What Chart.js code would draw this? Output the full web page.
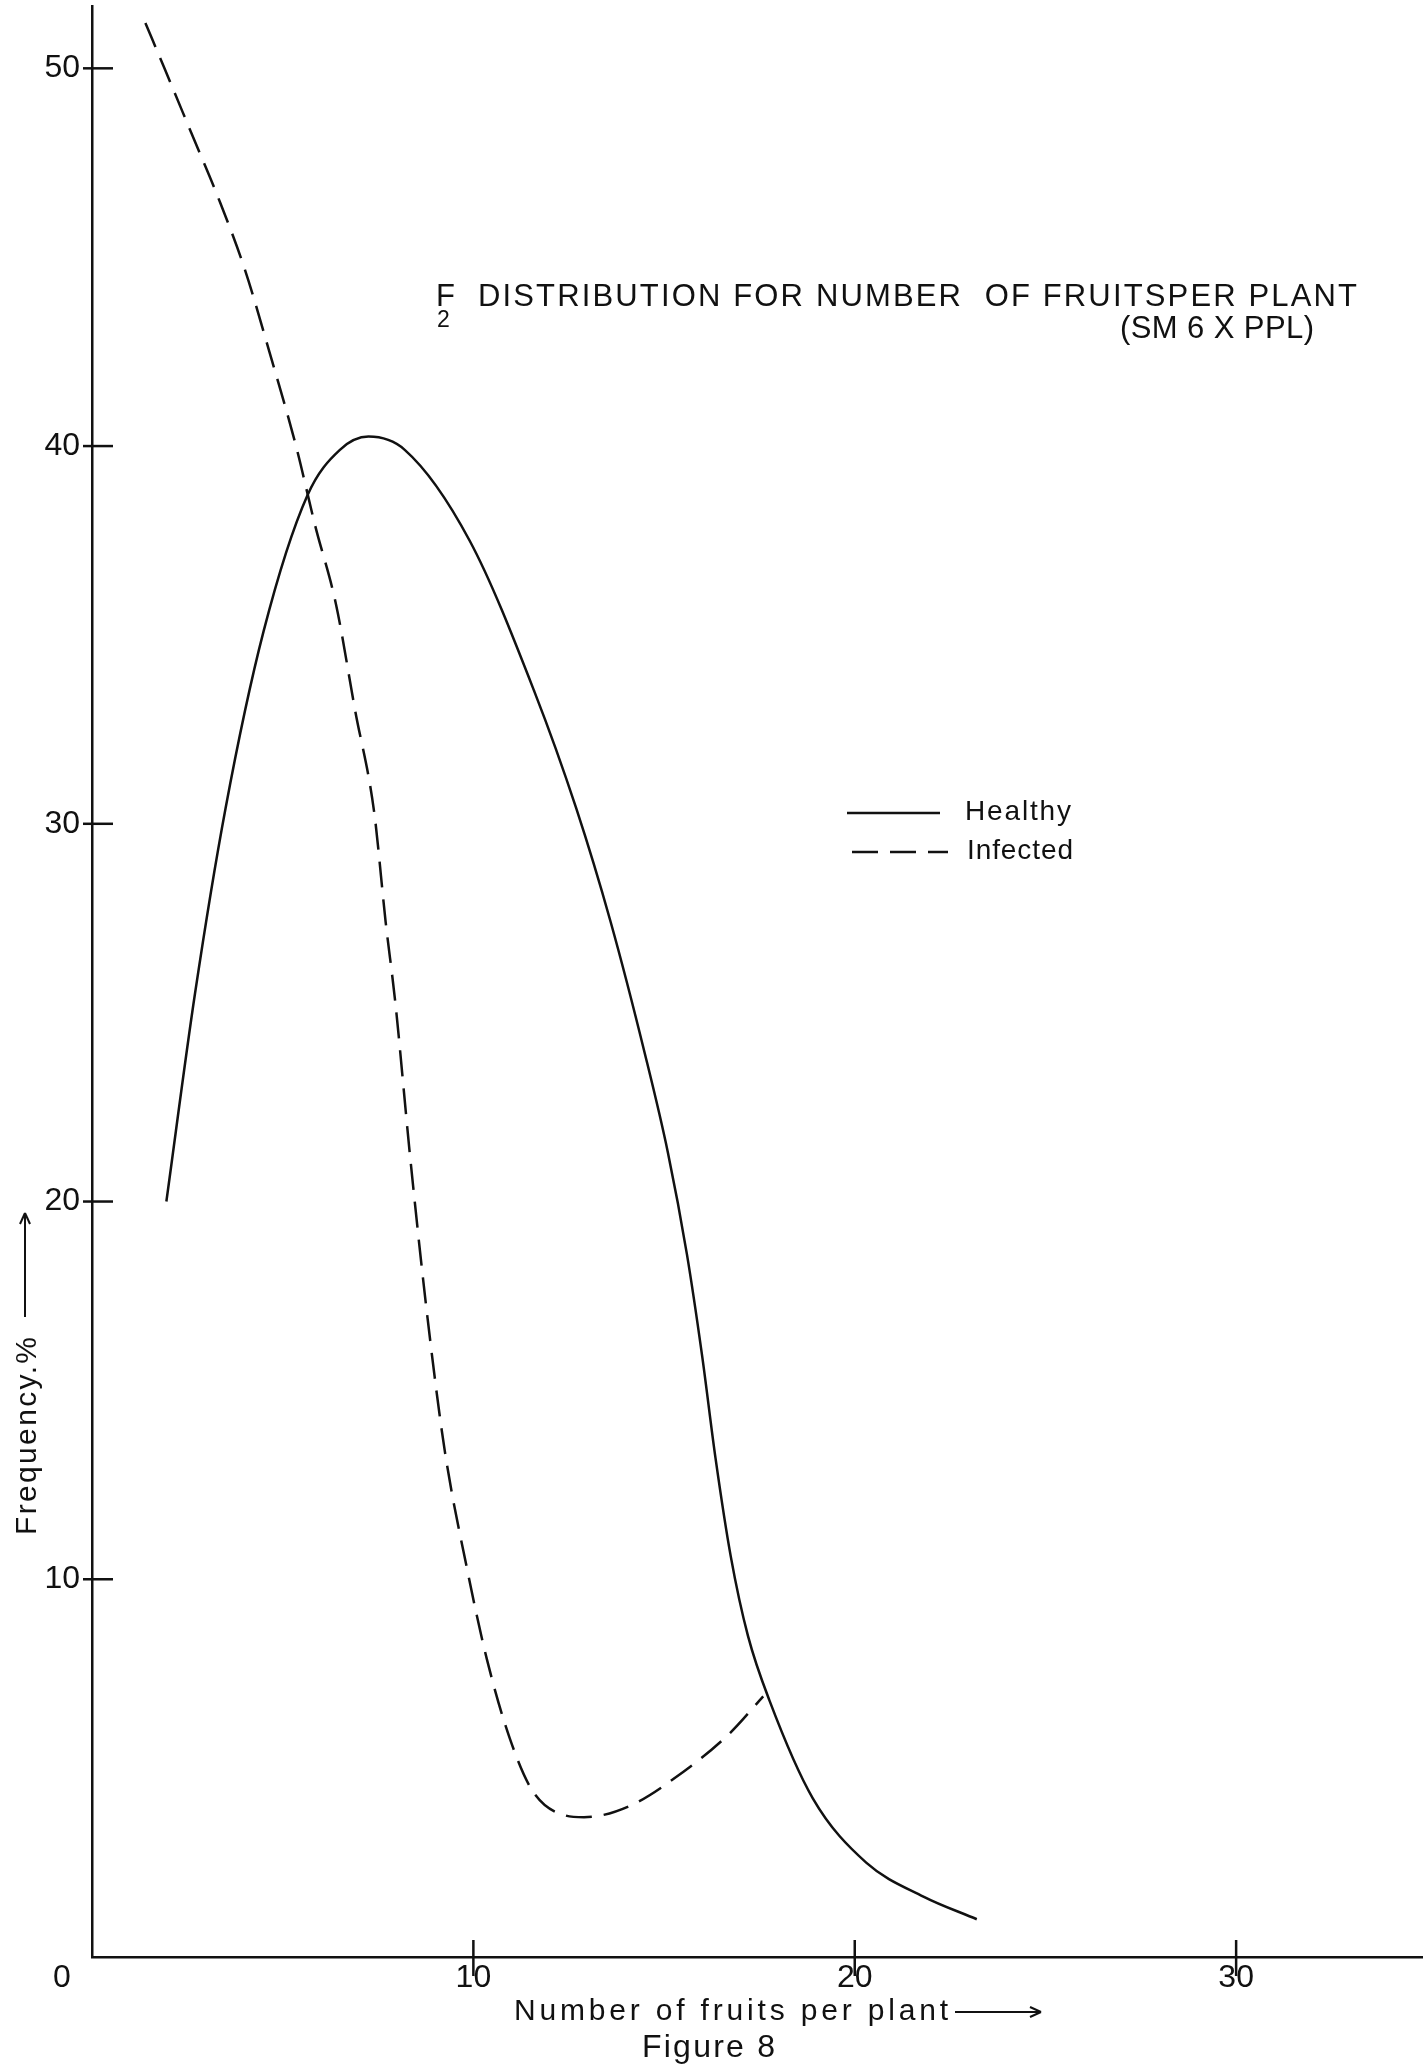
<!DOCTYPE html>
<html>
<head>
<meta charset="utf-8">
<title>F2 distribution for number of fruits per plant</title>
<script src="https://cdn.jsdelivr.net/npm/chart.js@4.4.0/dist/chart.umd.min.js"></script>
<style>
  html, body { margin: 0; padding: 0; background: #fff; }
  #wrap { width: 1423px; height: 2066px; }
</style>
</head>
<body>
<div id="wrap"><canvas id="grafico" width="1423" height="2066"></canvas></div>
<script>
// values
const healthyX = [1.95, 2.7, 3.5, 4.5, 5.65, 6.5, 7.25, 8.2, 9.9, 11.6, 12.7, 13.6, 14.5, 15.1, 15.6, 16.0, 16.35, 16.75, 17.2, 17.76, 18.9, 20.3, 21.8, 23.2];
const healthyY = [20.0, 25.5, 30.4, 35.1, 38.7, 39.9, 40.25, 39.9, 37.5, 33.5, 30.4, 27.4, 23.9, 21.3, 18.6, 15.9, 13.2, 10.6, 8.5, 6.8, 4.2, 2.5, 1.6, 1.0];

const infectedX = [1.4, 1.9, 2.6, 3.3, 4.0, 4.65, 5.35, 5.85, 6.4, 6.9, 7.4, 7.7, 7.95, 8.35, 8.8, 9.25, 9.85, 10.35, 10.95, 11.55, 12.4, 12.9, 14.1, 15.5, 16.7, 17.6];
const infectedY = [51.2, 50.0, 48.3, 46.6, 44.7, 42.5, 40.0, 37.9, 35.8, 33.0, 30.3, 27.4, 25.3, 21.1, 16.9, 13.4, 10.2, 7.9, 5.8, 4.4, 3.75, 3.7, 4.0, 4.9, 5.9, 6.9];

const xTicks = [0, 10, 20, 30];
const yTicks = [0, 10, 20, 30, 40, 50];
const xMax = 34.9;
const yMax = 51.65;

const seriesNames = ['Healthy', 'Infected'];
const TITLE = 'DISTRIBUTION FOR NUMBER  OF FRUITSPER PLANT';
const SUBTITLE = '(SM 6 X PPL)';
const X_TITLE = 'Number of fruits per plant';
const Y_TITLE = 'Frequency.%';
const FIG_LABEL = 'Figure 8';

const INK = '#111';
const FONT = '"Liberation Sans", Arial, sans-serif';

function toPoints(xs, ys) {
    return xs.map((x, i) => ({ x: x, y: ys[i] }));
}

function seg(ctx, x1, y1, x2, y2) {
    ctx.beginPath();
    ctx.moveTo(x1, y1);
    ctx.lineTo(x2, y2);
    ctx.stroke();
}

function arrowRight(ctx, x1, y, x2) {
    seg(ctx, x1, y, x2, y);
    seg(ctx, x2 - 11, y - 5, x2, y);
    seg(ctx, x2 - 11, y + 5, x2, y);
}

// stretch text to a given width with letter spacing
function fitText(ctx, text, x, y, width) {
    ctx.letterSpacing = '0px';
    const w = ctx.measureText(text).width;
    const ls = text.length > 1 ? (width - w) / (text.length - 1) : 0;
    ctx.letterSpacing = ls + 'px';
    ctx.fillText(text, x, y);
    ctx.letterSpacing = '0px';
}

// tick marks, titles and legend
const extras = {
    id: 'extras',
    afterDraw(chart) {
        const ctx = chart.ctx;
        const xs = chart.scales.x;
        const ys = chart.scales.y;
        const ox = xs.getPixelForValue(0);
        const oy = ys.getPixelForValue(0);

        ctx.save();
        ctx.strokeStyle = INK;
        ctx.fillStyle = INK;
        ctx.lineWidth = 2.5;

        ys.ticks.forEach(t => {
            if (!t.value) return;
            const py = ys.getPixelForValue(t.value);
            seg(ctx, ox - 9, py, ox + 21, py);
        });
        xs.ticks.forEach(t => {
            if (!t.value) return;
            const px = xs.getPixelForValue(t.value);
            seg(ctx, px, oy - 17, px, oy + 19);
        });

        ctx.font = '32px ' + FONT;
        ctx.textAlign = 'center';
        ctx.textBaseline = 'middle';
        ctx.fillText('0', ox - 30, oy + 21);

        // title
        ctx.textAlign = 'left';
        ctx.textBaseline = 'alphabetic';
        ctx.font = '31px ' + FONT;
        ctx.fillText('F', 436, 306);
        ctx.font = '23px ' + FONT;
        ctx.fillText('2', 437, 327);
        ctx.font = '31px ' + FONT;
        fitText(ctx, TITLE, 478, 306, 879);
        fitText(ctx, SUBTITLE, 1120, 338, 194);

        // legend
        chart.data.datasets.forEach((ds, i) => {
            const ly = 813 + i * 39;
            ctx.lineWidth = 2.5;
            ctx.setLineDash(ds.borderDash || []);
            seg(ctx, 847 + i * 5, ly, 940 + i * 8, ly);
            ctx.setLineDash([]);
            ctx.font = '28px ' + FONT;
            fitText(ctx, ds.label, 965 + i * 2, ly + 7, 106);
        });

        // x title
        ctx.font = '30px ' + FONT;
        fitText(ctx, X_TITLE, 514, 2020, 434);
        ctx.lineWidth = 2;
        arrowRight(ctx, 955, 2012, 1041);
        ctx.font = '32px ' + FONT;
        fitText(ctx, FIG_LABEL, 642, 2057, 133);

        // y title, rotated
        ctx.save();
        ctx.translate(36, 1535);
        ctx.rotate(-Math.PI / 2);
        ctx.font = '30px ' + FONT;
        fitText(ctx, Y_TITLE, 0, 0, 198);
        arrowRight(ctx, 218, -11, 322);
        ctx.restore();

        ctx.restore();
    }
};

function cargarGrafico() {
    const ctx = document.getElementById('grafico').getContext('2d');
    new Chart(ctx, {
        type: 'line',
        data: {
            datasets: [{
                label: seriesNames[0],
                data: toPoints(healthyX, healthyY),
                borderColor: INK,
                borderWidth: 2.5,
                pointRadius: 0,
                fill: false,
                cubicInterpolationMode: 'monotone'
            }, {
                label: seriesNames[1],
                data: toPoints(infectedX, infectedY),
                borderColor: INK,
                borderWidth: 2.5,
                borderDash: [26, 12],
                pointRadius: 0,
                fill: false,
                cubicInterpolationMode: 'monotone'
            }]
        },
        options: {
            responsive: false,
            animation: false,
            devicePixelRatio: 1,
            layout: { padding: { top: 6, left: 0, right: 0, bottom: 0 } },
            plugins: {
                legend: { display: false },
                tooltip: { enabled: false },
                title: { display: false }
            },
            scales: {
                x: {
                    type: 'linear',
                    min: 0,
                    max: xMax,
                    afterFit: scale => {
                        scale.height = 109;
                        scale.paddingLeft = 0;
                        scale.paddingRight = 0;
                    },
                    afterBuildTicks: scale => { scale.ticks = xTicks.map(v => ({ value: v })); },
                    grid: { display: false, drawTicks: false },
                    border: { display: true, color: INK, width: 2.5 },
                    ticks: {
                        padding: 2,
                        color: INK,
                        font: { family: FONT, size: 32 },
                        maxRotation: 0,
                        callback: v => (v === 0 ? '' : v)
                    }
                },
                y: {
                    type: 'linear',
                    min: 0,
                    max: yMax,
                    afterFit: scale => {
                        scale.width = 92;
                        scale.paddingTop = 0;
                        scale.paddingBottom = 0;
                    },
                    afterBuildTicks: scale => { scale.ticks = yTicks.map(v => ({ value: v })); },
                    grid: { display: false, drawTicks: false },
                    border: { display: true, color: INK, width: 2.5 },
                    ticks: {
                        padding: 12,
                        color: INK,
                        font: { family: FONT, size: 32 },
                        callback: v => (v === 0 ? '' : v)
                    }
                }
            }
        },
        plugins: [extras]
    });
}

document.addEventListener('DOMContentLoaded', cargarGrafico);
</script>
</body>
</html>
